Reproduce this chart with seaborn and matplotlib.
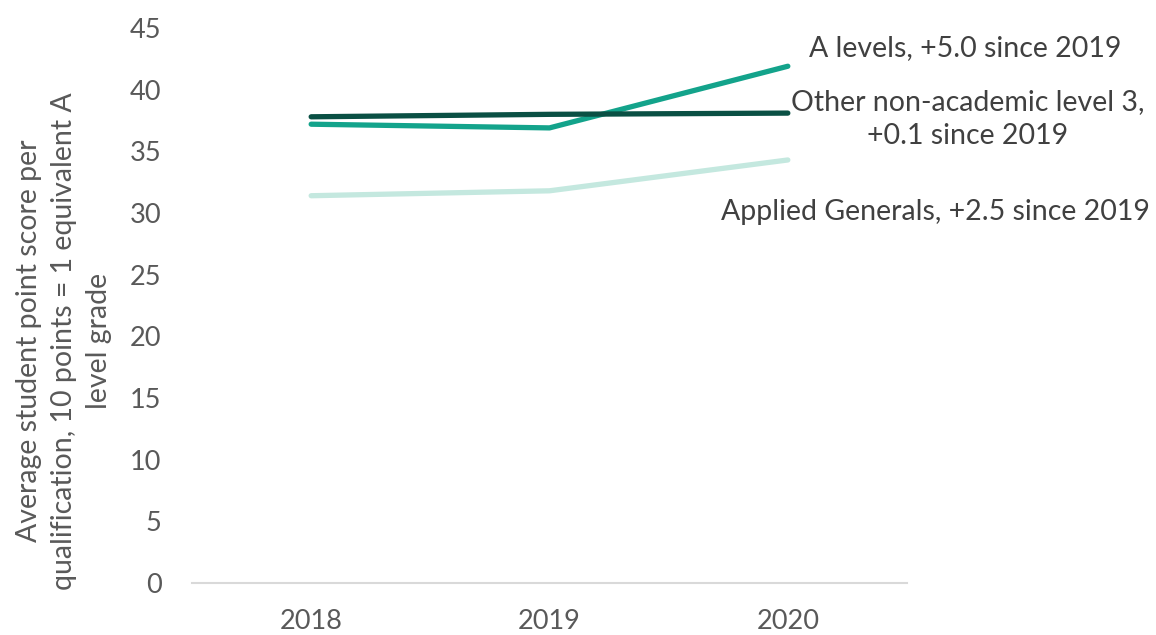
import matplotlib
matplotlib.use("Agg")
import matplotlib.pyplot as plt
import seaborn as sns
import pandas as pd

# ---- data ----
years = ["2018", "2019", "2020"]
series_names = ["A levels", "Other non-academic level 3", "Applied Generals"]
a_levels = [37.2, 36.9, 41.9]
other_non_academic = [37.8, 38.0, 38.1]
applied_generals = [31.4, 31.8, 34.3]
end_labels = [
    "A levels, +5.0 since 2019",
    "Other non-academic level 3,\n+0.1 since 2019",
    "Applied Generals, +2.5 since 2019",
]
y_ticks = [0, 5, 10, 15, 20, 25, 30, 35, 40, 45]
y_label = ("Average student point score per\n"
           "qualification, 10 points = 1 equivalent A\n"
           "level grade")

colors = {"A levels": "#13a38b",
          "Other non-academic level 3": "#0a5044",
          "Applied Generals": "#c4e8df"}

rows = []
for name, vals in zip(series_names, [a_levels, other_non_academic, applied_generals]):
    for y, v in zip(years, vals):
        rows.append({"year": y, "score": v, "series": name})
df = pd.DataFrame(rows)

sns.set_theme(style="white")
plt.rcParams["font.family"] = ["Lato", "DejaVu Sans"]

W, H = 1156, 635
fig = plt.figure(figsize=(W / 100, H / 100), dpi=100)
ax = fig.add_axes([192 / W, 1 - 583 / H, (907 - 192) / W, (583 - 28) / H])

sns.lineplot(data=df, x="year", y="score", hue="series",
             hue_order=["Applied Generals", "A levels", "Other non-academic level 3"],
             palette=colors, linewidth=3.8, legend=False, ax=ax,
             solid_capstyle="round")

ax.set_xlim(-0.5, 2.5)
ax.set_ylim(0, 45)
ax.set_yticks(y_ticks)
ax.set_xlabel("")
ax.set_ylabel("")
for s in ["top", "right", "left"]:
    ax.spines[s].set_visible(False)
ax.spines["bottom"].set_color("#d9d9d9")
ax.spines["bottom"].set_linewidth(1.5)
ax.tick_params(axis="both", length=0, labelsize=19.5, labelcolor="#595959")
ax.tick_params(axis="x", pad=19)
ax.tick_params(axis="y", pad=22)

fig.text(64 / W, 1 - 341 / H, y_label, rotation=90, ha="center", va="center",
         multialignment="center", fontsize=20.5, color="#595959", linespacing=1.42)

label_pos = [(965, 48), (968, 119), (935, 212)]
for (px, py), txt in zip(label_pos, end_labels):
    fig.text(px / W, 1 - py / H, txt, ha="center", va="center",
             multialignment="center", fontsize=20.5, color="#404040", linespacing=1.42)

fig.savefig("out.png", dpi=100)
